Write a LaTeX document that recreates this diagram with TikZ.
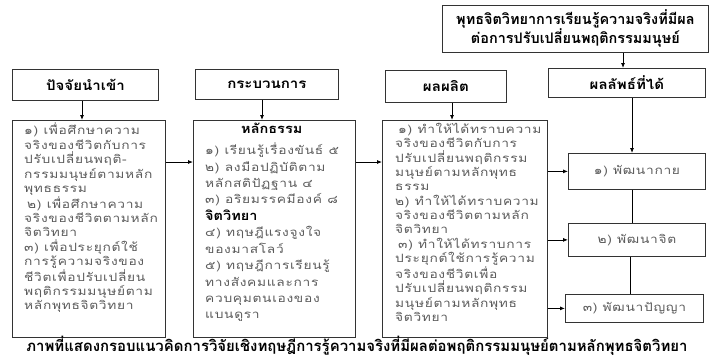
\documentclass[tikz,border=0pt]{standalone}
\usepackage{fontspec}
\newfontfamily\thai[Script=Thai]{Loma}
\newfontfamily\thaisp[Script=Thai,FakeStretch=1.2,LetterSpace=6]{Loma}
\newfontfamily\thaihd[Script=Thai,FakeStretch=1.12]{Loma}
\usetikzlibrary{arrows.meta}
\definecolor{bodytxt}{HTML}{5C5C5C}
\begin{document}
\begin{tikzpicture}[x=1bp,y=-1bp,
  box/.style={draw=black!80,line width=0.8bp,inner sep=0,anchor=north west},
  hdr/.style={font=\thaihd\bfseries\fontsize{13.5}{15}\selectfont},
  bodytext/.style={anchor=north west,inner sep=0,align=left,text=bodytxt,
    font=\thaisp\fontsize{11.5}{14.4}\selectfont},
  restext/.style={text=bodytxt,font=\thaisp\fontsize{11.5}{13}\selectfont},
  arr/.style={-{Latex[length=5bp,width=4bp]},line width=0.8bp},
  ln/.style={line width=0.8bp}]
\useasboundingbox (0,0) rectangle (711,360);
% top box
\node[box,minimum width=266bp,minimum height=47bp,align=center,font=\thai\bfseries\fontsize{14.5}{19}\selectfont] (top) at (442,5)
  {พุทธจิตวิทยาการเรียนรู้ความจริงที่มีผล\\ต่อการปรับเปลี่ยนพฤติกรรมมนุษย์};
% headers
\node[box,minimum width=146bp,minimum height=31bp,hdr] (h1) at (12,69) {ปัจจัยนำเข้า};
\node[box,minimum width=143bp,minimum height=30bp,hdr] (h2) at (195,69) {กระบวนการ};
\node[box,minimum width=121bp,minimum height=32bp,hdr] (h3) at (385,70) {ผลผลิต};
\node[box,minimum width=157bp,minimum height=29bp,hdr] (h4) at (548,68) {ผลลัพธ์ที่ได้};
% body boxes
\node[box,minimum width=153bp,minimum height=217bp] (b1) at (12,120) {};
\node[box,minimum width=162bp,minimum height=217bp] (b2) at (193,120) {};
\node[box,minimum width=165bp,minimum height=217bp] (b3) at (382,120) {};
% body texts
\node[bodytext] (t1) at (24,123) {๑) เพื่อศึกษาความ\\จริงของชีวิตกับการ\\ปรับเปลี่ยนพฤติ-\\กรรมมนุษย์ตามหลัก\\พุทธธรรม\\\hspace{3bp}๒) เพื่อศึกษาความ\\จริงของชีวิตตามหลัก\\จิตวิทยา\\๓) เพื่อประยุกต์ใช้\\การรู้ความจริงของ\\ชีวิตเพื่อปรับเปลี่ยน\\พฤติกรรมมนุษย์ตาม\\หลักพุทธจิตวิทยา};
\node[bodytext,font=\thaisp\fontsize{11.5}{16.5}\selectfont] (t2) at (205,123) {\hspace{36bp}{\color{black}\thaihd\bfseries\fontsize{13}{16.5}\selectfont หลักธรรม}\\[4.5bp]๑) เรียนรู้เรื่องขันธ์ ๕\\๒) ลงมือปฏิบัติตาม\\หลักสติปัฏฐาน ๔\\๓) อริยมรรคมีองค์ ๘\\{\color{black}\thaihd\bfseries\fontsize{13}{16.5}\selectfont จิตวิทยา}\\๔) ทฤษฎีแรงจูงใจ\\ของมาสโลว์\\๕) ทฤษฎีการเรียนรู้\\ทางสังคมและการ\\ควบคุมตนเองของ\\แบนดูรา};
\node[bodytext] (t3) at (395,123) {\hspace{3bp}๑) ทำให้ได้ทราบความ\\จริงของชีวิตกับการ\\ปรับเปลี่ยนพฤติกรรม\\มนุษย์ตามหลักพุทธ\\ธรรม\\๒) ทำให้ได้ทราบความ\\จริงของชีวิตตามหลัก\\จิตวิทยา\\\hspace{3bp}๓) ทำให้ได้ทราบการ\\ประยุกต์ใช้การรู้ความ\\จริงของชีวิตเพื่อ\\ปรับเปลี่ยนพฤติกรรม\\มนุษย์ตามหลักพุทธ\\จิตวิทยา};
% result boxes
\node[box,minimum width=137bp,minimum height=36bp,restext] (r1) at (568,153) {๑) พัฒนากาย};
\node[box,minimum width=137bp,minimum height=33bp,restext] (r2) at (568,223) {๒) พัฒนาจิต};
\node[box,minimum width=138bp,minimum height=28bp,restext] (r3) at (565,294) {๓) พัฒนาปัญญา};
% caption
\node[font=\thai\bfseries\fontsize{15}{17}\selectfont] (cap) at (357,345.5) {ภาพที่แสดงกรอบแนวคิดการวิจัยเชิงทฤษฎีการรู้ความจริงที่มีผลต่อพฤติกรรมมนุษย์ตามหลักพุทธจิตวิทยา};
% connectors
\draw[arr] (623,0 |- top.south) -- (623,0 |- h4.north);
\draw[arr] (82,0 |- h1.south) -- (82,0 |- b1.north);
\draw[arr] (262,0 |- h2.south) -- (262,0 |- b2.north);
\draw[arr] (452,0 |- h3.south) -- (452,0 |- b3.north);
\draw[arr] (632,0 |- h4.south) -- (632,0 |- r1.north);
\draw[ln] (632,0 |- r1.south) -- (632,0 |- r2.north);
\draw[ln] (630,0 |- r2.south) -- (630,0 |- r3.north);
\draw[arr] (b1.east |- 0,162) -- (b2.west |- 0,162);
\draw[arr] (b2.east |- 0,162) -- (b3.west |- 0,162);
\draw[arr] (b3.east |- r1.west) -- (r1.west);
\draw[arr] (b3.east |- r2.west) -- (r2.west);
\draw[arr] (b3.east |- r3.west) -- (r3.west);
\end{tikzpicture}
\end{document}
